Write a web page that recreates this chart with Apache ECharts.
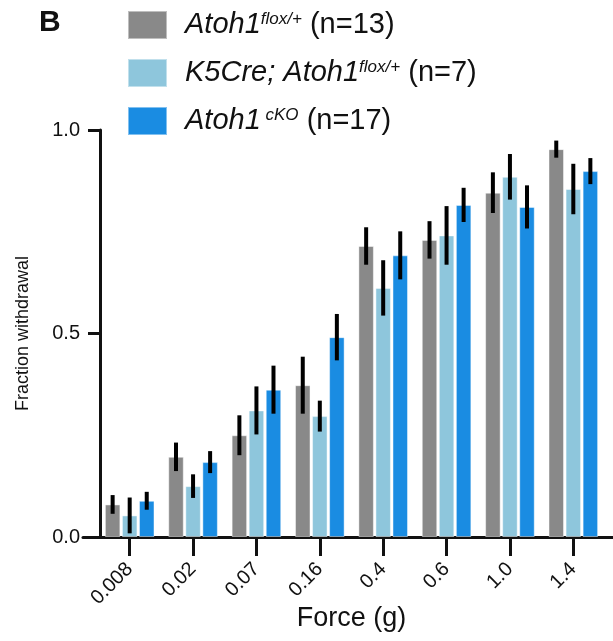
<!DOCTYPE html>
<html>
<head>
<meta charset="utf-8">
<script src="https://cdn.jsdelivr.net/npm/echarts@6/dist/echarts.min.js"></script>
<style>
  html, body { margin: 0; padding: 0; background: #fff; }
  #chart { width: 613px; height: 641px; }
</style>
</head>
<body>
<div id="chart"></div>
<script>
// force categories (g)
const forces = ['0.008', '0.02', '0.07', '0.16', '0.4', '0.6', '1.0', '1.4'];

// Atoh1 flox/+ (n=13)
const floxMean = [0.080, 0.197, 0.250, 0.373, 0.715, 0.730, 0.846, 0.953];
const floxErr = [0.023, 0.035, 0.049, 0.070, 0.046, 0.046, 0.050, 0.021];
// K5Cre; Atoh1 flox/+ (n=7)
const k5Mean = [0.053, 0.125, 0.311, 0.297, 0.612, 0.741, 0.885, 0.855];
const k5Err = [0.044, 0.029, 0.059, 0.038, 0.068, 0.072, 0.056, 0.062];
// Atoh1 cKO (n=17)
const ckoMean = [0.089, 0.184, 0.362, 0.491, 0.692, 0.816, 0.811, 0.899];
const ckoErr = [0.022, 0.027, 0.059, 0.057, 0.059, 0.042, 0.053, 0.032];

const yTicks = [0, 0.5, 1.0];

const FONT = '"Liberation Sans", Arial, sans-serif';
const TXT = '#111';
const barW = 15.5;
const gapRatio = 0.1;

const groups = [
  { name: 'flox', color: '#898989', mean: floxMean, err: floxErr,
    label: '{a|Atoh1}{s|flox/+}{n| (n=13)}' },
  { name: 'k5', color: '#8ec6dc', mean: k5Mean, err: k5Err,
    label: '{a|K5Cre; Atoh1}{s|flox/+}{n| (n=7)}' },
  { name: 'cko', color: '#1a8ce2', mean: ckoMean, err: ckoErr,
    label: '{a|Atoh1}{s| cKO}{n| (n=17)}' }
];

const chart = echarts.init(document.getElementById('chart'));

const series = [];
groups.forEach(function (g) {
  series.push({
    name: g.name,
    type: 'bar',
    xAxisIndex: 0,
    yAxisIndex: 0,
    barWidth: barW,
    barGap: (gapRatio * 100) + '%',
    itemStyle: { color: g.color, borderColor: 'rgba(255,255,255,0.45)', borderWidth: 1 },
    data: g.mean
  });
});
groups.forEach(function (g, j) {
  series.push({
    name: g.name + '_err',
    type: 'custom',
    xAxisIndex: 0,
    yAxisIndex: 0,
    z: 5,
    renderItem: function (params, api) {
      const i = api.value(0);
      const m = api.value(1);
      const e = api.value(2);
      const top = api.coord([i, m + e]);
      const bot = api.coord([i, m - e]);
      const off = (j - 1) * barW * (1 + gapRatio);
      return {
        type: 'line',
        shape: { x1: top[0] + off, y1: top[1], x2: bot[0] + off, y2: bot[1] },
        style: { stroke: '#000', lineWidth: 4 }
      };
    },
    encode: { x: 0, y: 1 },
    data: forces.map(function (c, i) { return [i, g.mean[i], g.err[i]]; })
  });
});

const option = {
  animation: false,
  textStyle: { fontFamily: FONT },
  title: {
    text: 'B', left: 39, top: 8, padding: 0,
    textStyle: { fontFamily: FONT, fontSize: 30, fontWeight: 'bold', color: TXT }
  },
  legend: {
    orient: 'vertical',
    left: 127,
    top: 10,
    padding: 0,
    icon: 'rect',
    itemWidth: 39,
    itemHeight: 28,
    itemGap: 18,
    data: groups.map(function (g) { return g.name; }),
    formatter: function (name) {
      return groups.find(function (g) { return g.name === name; }).label;
    },
    textStyle: {
      padding: [0, 0, 0, 13],
      rich: {
        a: { fontFamily: FONT, fontSize: 29, fontStyle: 'italic', color: TXT, lineHeight: 28 },
        s: { fontFamily: FONT, fontSize: 17, fontStyle: 'italic', color: TXT, lineHeight: 17, verticalAlign: 'top' },
        n: { fontFamily: FONT, fontSize: 29, color: TXT, lineHeight: 28 }
      }
    }
  },
  grid: [
    { left: 98, right: 8, top: 130, bottom: 104, outerBoundsMode: 'none' },
    { left: 83, right: 0, top: 130, bottom: 104, outerBoundsMode: 'none' }
  ],
  xAxis: [
    {
      type: 'category',
      gridIndex: 0,
      data: forces,
      name: 'Force (g)',
      nameLocation: 'middle',
      nameGap: 68,
      nameMoveOverlap: false,
      nameTextStyle: { fontFamily: FONT, fontSize: 27, color: TXT },
      axisLine: { show: false },
      axisTick: { show: true, alignWithLabel: true, length: 19, lineStyle: { color: TXT, width: 3 } },
      axisLabel: { rotate: 45, margin: 29, fontSize: 20, color: TXT, fontFamily: FONT },
      splitLine: { show: false }
    },
    {
      type: 'value',
      gridIndex: 1,
      min: 0, max: 1,
      axisLine: { show: true, lineStyle: { color: TXT, width: 3 } },
      axisTick: { show: false },
      axisLabel: { show: false },
      splitLine: { show: false }
    }
  ],
  yAxis: [
    {
      type: 'value',
      gridIndex: 0,
      min: 0,
      max: 1,
      interval: 0.5,
      offset: -2,
      name: 'Fraction withdrawal',
      nameLocation: 'middle',
      nameGap: 68,
      nameMoveOverlap: false,
      nameTextStyle: { fontFamily: FONT, fontSize: 18, color: TXT },
      axisLine: { show: true, lineStyle: { color: TXT, width: 3 } },
      axisTick: { show: true, length: 12, lineStyle: { color: TXT, width: 3 } },
      axisLabel: {
        margin: 20, fontSize: 20, color: TXT, fontFamily: FONT,
        formatter: function (v) { return yTicks.indexOf(v) >= 0 ? v.toFixed(1) : ''; }
      },
      splitLine: { show: false }
    },
    { type: 'value', gridIndex: 1, show: false, min: 0, max: 1 }
  ],
  series: series
};

chart.setOption(option);
</script>
</body>
</html>
